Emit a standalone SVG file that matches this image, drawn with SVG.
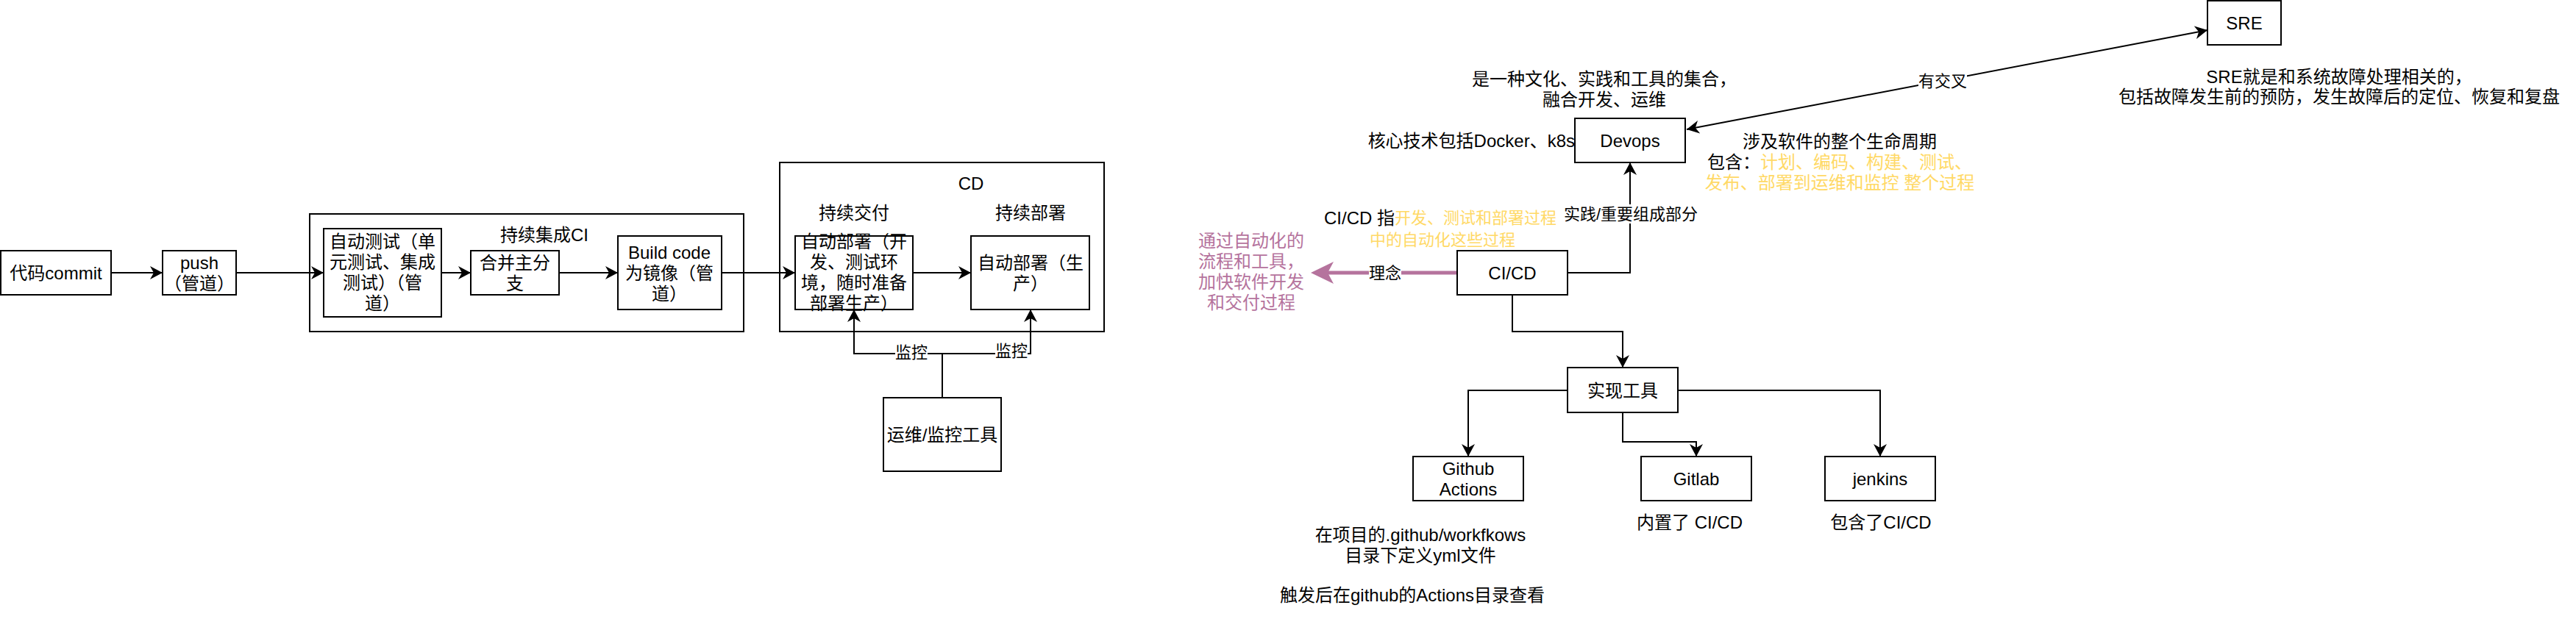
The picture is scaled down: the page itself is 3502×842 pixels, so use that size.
<svg xmlns="http://www.w3.org/2000/svg" width="3502" height="842" viewBox="0 0 3502 842">
<style>
.box{fill:#ffffff;stroke:#000000;stroke-width:2}
.ln{fill:none;stroke:#000000;stroke-width:2}
.t{font-family:"Liberation Sans","Noto Sans CJK SC",sans-serif;font-size:24px;fill:#000000;text-anchor:middle;dominant-baseline:central}
.e{font-size:22px}
.y{fill:#FFD966}
.p{fill:#B5739D}
.bg{fill:#ffffff;stroke:none}
</style>
<defs>
<marker id="arr" markerUnits="userSpaceOnUse" viewBox="0 0 17 18" markerWidth="17" markerHeight="18" refX="17" refY="9" orient="auto-start-reverse">
<path d="M0,0 L17,9 L0,18 L5,9 Z" fill="#000000"/>
</marker>
</defs>
<rect width="3502" height="842" fill="#ffffff"/>

<g id="ci-container">
<rect class="box" x="421" y="291" width="590" height="160"/>
<text class="t" x="740" y="319">持续集成CI</text>
</g>
<g id="cd-container">
<rect class="box" x="1060" y="221" width="441" height="230"/>
<text class="t" x="1320" y="249">CD</text>
<text class="t" x="1161" y="289">持续交付</text>
<text class="t" x="1401" y="289">持续部署</text>
</g>

<g id="connectors">
<path class="ln" d="M151,371 H221" marker-end="url(#arr)"/>
<path class="ln" d="M321,371 H440" marker-end="url(#arr)"/>
<path class="ln" d="M600,371 H640" marker-end="url(#arr)"/>
<path class="ln" d="M760,371 H840" marker-end="url(#arr)"/>
<path class="ln" d="M981,371 H1081" marker-end="url(#arr)"/>
<path class="ln" d="M1241,371 H1320" marker-end="url(#arr)"/>
<path class="ln" d="M1281,541 V481 H1161 V421" marker-end="url(#arr)"/>
<path class="ln" d="M1281,481 H1401 V421" marker-end="url(#arr)"/>
<rect class="bg" x="1217" y="467" width="44" height="26"/>
<text class="t e" x="1239" y="479">监控</text>
<rect class="bg" x="1353" y="465" width="44" height="26"/>
<text class="t e" x="1375" y="477">监控</text>

<path class="ln" d="M2293,176 L3001,41" marker-start="url(#arr)" marker-end="url(#arr)"/>
<rect class="bg" x="2608" y="97" width="66" height="26"/>
<text class="t e" x="2641" y="110">有交叉</text>

<path class="ln" d="M2131,371 H2216 V221" marker-end="url(#arr)"/>
<rect class="bg" x="2124" y="278" width="186" height="26"/>
<text class="t e" x="2217" y="291">实践/重要组成部分</text>

<path d="M1981,371 H1805" fill="none" stroke="#B5739D" stroke-width="5"/>
<path d="M1782,371 L1813,356 L1805,371 L1813,386 Z" fill="#B5739D"/>
<rect class="bg" x="1861" y="358" width="44" height="26"/>
<text class="t e" x="1883" y="371">理念</text>

<path class="ln" d="M2056,401 V451 H2206 V500" marker-end="url(#arr)"/>
<path class="ln" d="M2131,531 H1996 V621" marker-end="url(#arr)"/>
<path class="ln" d="M2206,561 V601 H2306 V621" marker-end="url(#arr)"/>
<path class="ln" d="M2281,531 H2556 V621" marker-end="url(#arr)"/>
</g>

<g id="commit">
<rect class="box" x="1" y="341" width="150" height="60"/>
<text class="t" x="76" y="371">代码commit</text>
</g>
<g id="push">
<rect class="box" x="221" y="341" width="100" height="60"/>
<text class="t" x="271" y="357">push</text>
<text class="t" x="271" y="385">（管道）</text>
</g>
<g id="auto-test">
<rect class="box" x="440" y="311" width="160" height="120"/>
<text class="t" x="520" y="328">自动测试（单</text>
<text class="t" x="520" y="356">元测试、集成</text>
<text class="t" x="520" y="384">测试）（管</text>
<text class="t" x="520" y="412">道）</text>
</g>
<g id="merge">
<rect class="box" x="640" y="341" width="120" height="60"/>
<text class="t" x="700" y="357">合并主分</text>
<text class="t" x="700" y="385">支</text>
</g>
<g id="build">
<rect class="box" x="840" y="321" width="141" height="100"/>
<text class="t" x="910" y="343">Build code</text>
<text class="t" x="910" y="371">为镜像（管</text>
<text class="t" x="910" y="399">道）</text>
</g>
<g id="delivery">
<rect class="box" x="1081" y="321" width="160" height="100"/>
<text class="t" x="1161" y="328">自动部署（开</text>
<text class="t" x="1161" y="356">发、测试环</text>
<text class="t" x="1161" y="384">境，随时准备</text>
<text class="t" x="1161" y="412">部署生产）</text>
</g>
<g id="deploy">
<rect class="box" x="1320" y="321" width="161" height="100"/>
<text class="t" x="1401" y="357">自动部署（生</text>
<text class="t" x="1401" y="385">产）</text>
</g>
<g id="ops-tools">
<rect class="box" x="1201" y="541" width="160" height="100"/>
<text class="t" x="1281" y="591">运维/监控工具</text>
</g>

<g id="devops">
<rect class="box" x="2141" y="161" width="150" height="60"/>
<text class="t" x="2216" y="191">Devops</text>
</g>
<g id="devops-desc">
<text class="t" x="2181" y="107">是一种文化、实践和工具的集合，</text>
<text class="t" x="2181" y="135">融合开发、运维</text>
</g>
<g id="devops-tech">
<text class="t" x="2141" y="191" style="text-anchor:end">核心技术包括Docker、k8s</text>
</g>
<g id="devops-lifecycle">
<text class="t" x="2501" y="192">涉及软件的整个生命周期</text>
<text class="t" x="2501" y="220">包含：<tspan class="y">计划、编码、构建、测试、</tspan></text>
<text class="t y" x="2501" y="248">发布、部署到运维和监控 整个过程</text>
</g>
<g id="sre">
<rect class="box" x="3001" y="1" width="100" height="60"/>
<text class="t" x="3051" y="31">SRE</text>
</g>
<g id="sre-desc">
<text class="t" x="3180" y="104">SRE就是和系统故障处理相关的，</text>
<text class="t" x="3180" y="131">包括故障发生前的预防，发生故障后的定位、恢复和复盘</text>
</g>
<g id="cicd">
<rect class="box" x="1981" y="341" width="150" height="60"/>
<text class="t" x="2056" y="371">CI/CD</text>
</g>
<g id="cicd-desc">
<text class="t" x="1958" y="296">CI/CD 指<tspan class="y" style="font-size:22px">开发、测试和部署过程</tspan></text>
<text class="t y" x="1961" y="326" style="font-size:22px">中的自动化这些过程</text>
</g>
<g id="cicd-idea">
<text class="t p" x="1701" y="327">通过自动化的</text>
<text class="t p" x="1701" y="355">流程和工具，</text>
<text class="t p" x="1701" y="383">加快软件开发</text>
<text class="t p" x="1701" y="411">和交付过程</text>
</g>
<g id="tools">
<rect class="box" x="2131" y="500" width="150" height="61"/>
<text class="t" x="2206" y="531">实现工具</text>
</g>
<g id="github-actions">
<rect class="box" x="1921" y="621" width="150" height="60"/>
<text class="t" x="1996" y="637">Github</text>
<text class="t" x="1996" y="665">Actions</text>
</g>
<g id="github-desc">
<text class="t" x="1931" y="727">在项目的.github/workfkows</text>
<text class="t" x="1931" y="755">目录下定义yml文件</text>
<text class="t" x="1920" y="809">触发后在github的Actions目录查看</text>
</g>
<g id="gitlab">
<rect class="box" x="2231" y="621" width="150" height="60"/>
<text class="t" x="2306" y="651">Gitlab</text>
</g>
<g id="gitlab-desc">
<text class="t" x="2297" y="710">内置了 CI/CD</text>
</g>
<g id="jenkins">
<rect class="box" x="2481" y="621" width="150" height="60"/>
<text class="t" x="2556" y="651">jenkins</text>
</g>
<g id="jenkins-desc">
<text class="t" x="2557" y="710">包含了CI/CD</text>
</g>
</svg>
